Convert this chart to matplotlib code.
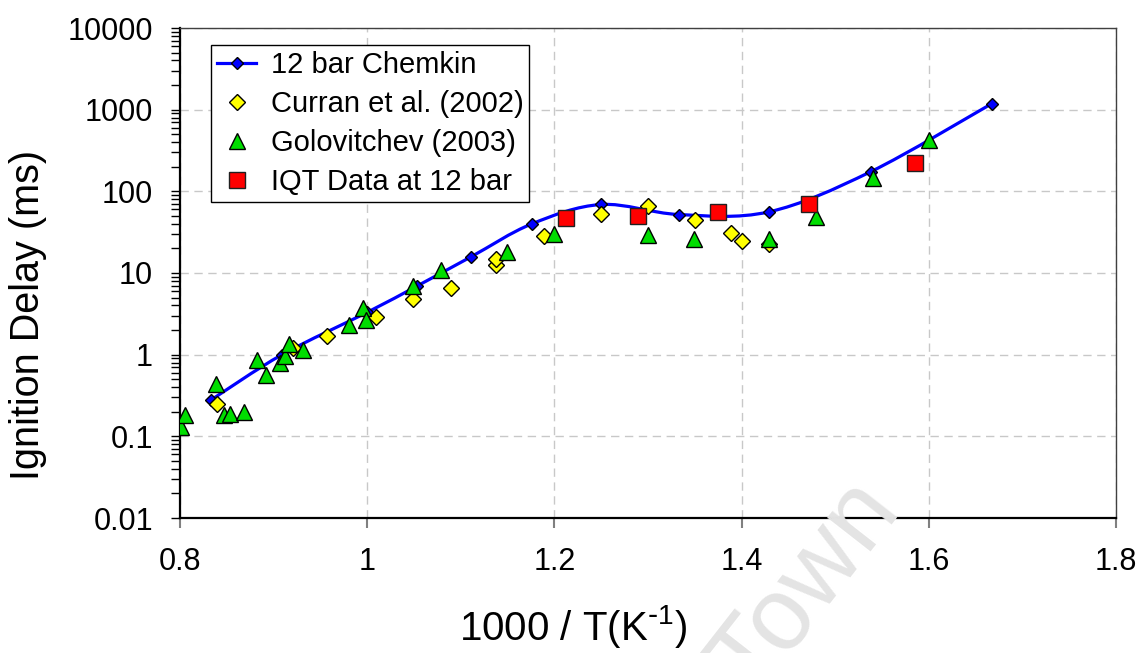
import numpy as np
import matplotlib.pyplot as plt
from matplotlib.path import Path
from matplotlib.patches import PathPatch
from matplotlib.lines import Line2D

plt.rcParams['font.family'] = ['Liberation Sans', 'DejaVu Sans']

# 12 bar Chemkin model, 1000/T vs ignition delay (ms)
chemkin_x = [0.833, 0.909, 1.0, 1.053, 1.111, 1.176, 1.25, 1.333, 1.429, 1.538, 1.667]
chemkin_y = [0.278, 1.0, 3.3, 6.9, 15.8, 40, 69, 52, 56, 174, 1180]

# Curran et al. (2002)
curran_x = [0.839, 0.921, 0.957, 1.009, 1.049, 1.09, 1.138, 1.138, 1.189, 1.25,
            1.30, 1.35, 1.389, 1.40, 1.429]
curran_y = [0.246, 1.22, 1.69, 2.92, 4.85, 6.6, 12.4, 15, 28.3, 53,
            66, 44, 30.5, 25, 22.9]

# Golovitchev (2003)
golov_x = [0.801, 0.805, 0.838, 0.847, 0.853, 0.868, 0.882, 0.892, 0.907, 0.912,
           0.916, 0.931, 0.981, 0.995, 0.999, 1.049, 1.079, 1.149, 1.20, 1.30,
           1.349, 1.429, 1.479, 1.54, 1.60]
golov_y = [0.131, 0.18, 0.44, 0.18, 0.19, 0.20, 0.86, 0.57, 0.78, 0.96,
           1.37, 1.14, 2.29, 3.76, 2.63, 6.9, 10.9, 18.2, 29.7, 28.8,
           26.3, 25.8, 48, 147, 420]

# IQT data at 12 bar
iqt_x = [1.212, 1.289, 1.375, 1.472, 1.585]
iqt_y = [46.6, 49.7, 55.6, 70.5, 224]

xticks = [0.8, 1.0, 1.2, 1.4, 1.6, 1.8]
xticklabels = ['0.8', '1', '1.2', '1.4', '1.6', '1.8']
yticks = [0.01, 0.1, 1, 10, 100, 1000, 10000]
yticklabels = ['0.01', '0.1', '1', '10', '100', '1000', '10000']

fig = plt.figure(figsize=(11.4, 6.53), dpi=100)
ax = fig.add_axes([180 / 1140, 1 - 518 / 653, 936 / 1140, 490 / 653])
ax.set_yscale('log')
ax.set_xlim(0.8, 1.8)
ax.set_ylim(0.01, 10000)

# smoothed line (Excel style bezier through the chemkin points, in log space)
px = np.array(chemkin_x)
py = np.log10(chemkin_y)
pts = np.column_stack([px, py])
ext = np.vstack([pts[0], pts, pts[-1]])
verts = [pts[0]]
codes = [Path.MOVETO]
for i in range(len(pts) - 1):
    p0, p1, p2, p3 = ext[i], ext[i + 1], ext[i + 2], ext[i + 3]
    c1 = p1 + (p2 - p0) / 6
    c2 = p2 - (p3 - p1) / 6
    verts += [c1, c2, p2]
    codes += [Path.CURVE4] * 3
verts = np.array(verts)
verts[:, 1] = 10 ** verts[:, 1]
ax.add_patch(PathPatch(Path(verts, codes), fill=False, edgecolor='#0000ff',
                       lw=2.3, zorder=2))

blue_kw = dict(marker='D', ms=6.6, mfc='#0000ff', mec='black', mew=1.0)
yellow_kw = dict(marker='D', ms=8.4, mfc='#ffff00', mec='black', mew=1.0)
green_kw = dict(marker='^', ms=11.5, mfc='#00dd00', mec='black', mew=1.0)
red_kw = dict(marker='s', ms=11, mfc='#ff0000', mec='#202020', mew=1.0)

ax.plot(chemkin_x, chemkin_y, ls='none', zorder=3, **blue_kw)
ax.plot(curran_x, curran_y, ls='none', zorder=4, **yellow_kw)
ax.plot(golov_x, golov_y, ls='none', zorder=5, **green_kw)
ax.plot(iqt_x, iqt_y, ls='none', zorder=6, **red_kw)

ax.set_xticks(xticks)
ax.set_xticklabels(xticklabels)
ax.set_yticks(yticks)
ax.set_yticklabels(yticklabels)
ax.yaxis.set_minor_locator(plt.matplotlib.ticker.LogLocator(base=10, subs=np.arange(2, 10)))
ax.yaxis.set_minor_formatter(plt.NullFormatter())
ax.tick_params(axis='y', which='both', direction='out', length=6.5, width=1,
               color='black', labelsize=22, pad=13)
ax.tick_params(axis='x', direction='out', length=7, width=1.5, color='#808080',
               labelsize=22, pad=14)

ax.grid(True, which='major', color='#c8c8c8', ls=(0, (6, 4)), lw=1)
ax.set_axisbelow(True)

for s in ['left', 'bottom']:
    ax.spines[s].set_linewidth(1.6)
    ax.spines[s].set_color('black')
for s in ['top', 'right']:
    ax.spines[s].set_linewidth(1.0)
    ax.spines[s].set_color('#404040')

ax.set_ylabel('Ignition Delay (ms)', fontsize=28.5, ha='center', va='center')
ax.yaxis.set_label_coords(-0.162, 0.414)
ax.set_xlabel('1000 / T(K$\\mathregular{^{\\text{-}1}}$)', fontsize=29,
              ha='center', va='center')
ax.xaxis.set_label_coords(0.42, -0.222)

handles = [
    Line2D([], [], color='#0000ff', lw=2.3, **blue_kw),
    Line2D([], [], ls='none', **yellow_kw),
    Line2D([], [], ls='none', **green_kw),
    Line2D([], [], ls='none', **red_kw),
]
labels = ['12 bar Chemkin', 'Curran et al. (2002)', 'Golovitchev (2003)', 'IQT Data at 12 bar']
leg = ax.legend(handles, labels, loc='upper left',
                bbox_to_anchor=((211 - 180) / 936, (518 - 45) / 490),
                borderaxespad=0, fontsize=21, frameon=True, fancybox=False,
                edgecolor='black', framealpha=1, borderpad=0.2, labelspacing=0.38,
                handlelength=1.35, handletextpad=0.5, numpoints=1)
leg.get_frame().set_linewidth(1.0)

# faint watermark
fig.text(0.708, 0.1, 'Town', fontsize=74, color='#e4e4e4', rotation=52,
         ha='center', va='center', zorder=0)

fig.savefig('out.png', dpi=100)
